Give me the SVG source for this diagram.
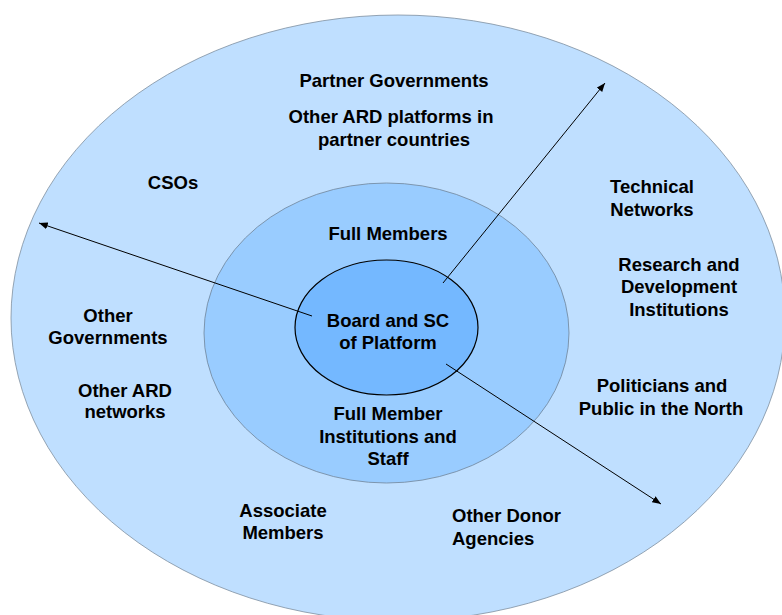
<svg xmlns="http://www.w3.org/2000/svg" width="782" height="615" viewBox="0 0 782 615">
  <style>
    .lbl { font-family: "Liberation Sans", Arial, sans-serif; font-weight: bold; font-size: 18.5px; fill: #000; }
    .mid { text-anchor: middle; }
    .ring-outer { fill: #BFDFFF; stroke: #7F8FA0; stroke-width: 0.8; }
    .ring-mid { fill: #99CCFF; stroke: #6F8499; stroke-width: 0.8; }
    .ring-core { fill: #74B8FF; stroke: #000; stroke-width: 1.2; }
    .conn { stroke: #000; stroke-width: 1; fill: none; marker-end: url(#head); }
  </style>
  <defs>
    <marker id="head" viewBox="0 0 10 8" refX="10" refY="4" markerWidth="9" markerHeight="7" markerUnits="userSpaceOnUse" orient="auto">
      <path d="M0,0 L10,4 L0,8 z" fill="#000"/>
    </marker>
  </defs>
  <rect width="782" height="615" fill="#fff"/>

  <!-- concentric rings -->
  <g id="outer-ring"><ellipse class="ring-outer" cx="398" cy="318" rx="387" ry="303"/></g>
  <g id="member-ring"><ellipse class="ring-mid" cx="386.5" cy="333" rx="182.5" ry="150"/></g>

  <g id="core">
    <ellipse class="ring-core" cx="386.5" cy="327.5" rx="91.5" ry="67.5"/>
  </g>

  <!-- arrows radiating from the core -->
  <g id="connectors">
    <line class="conn" x1="312" y1="316" x2="39" y2="223"/>
    <line class="conn" x1="443" y1="283" x2="605" y2="83"/>
    <line class="conn" x1="446" y1="364" x2="661" y2="504"/>
  </g>

  <g id="core-label">
    <text class="lbl mid" x="388" y="327">Board and SC</text>
    <text class="lbl mid" x="388" y="349">of Platform</text>
  </g>

  <g id="full-members"><text class="lbl mid" x="388" y="240">Full Members</text></g>
  <g id="full-member-institutions">
    <text class="lbl mid" x="388" y="420">Full Member</text>
    <text class="lbl mid" x="388" y="443">Institutions and</text>
    <text class="lbl mid" x="388" y="465">Staff</text>
  </g>

  <g id="partner-governments"><text class="lbl mid" x="394" y="87">Partner Governments</text></g>
  <g id="ard-platforms">
    <text class="lbl mid" x="391" y="123">Other ARD platforms in</text>
    <text class="lbl mid" x="394" y="146">partner countries</text>
  </g>
  <g id="csos"><text class="lbl mid" x="173" y="189">CSOs</text></g>
  <g id="technical-networks">
    <text class="lbl mid" x="652" y="193">Technical</text>
    <text class="lbl mid" x="652" y="216">Networks</text>
  </g>
  <g id="research-institutions">
    <text class="lbl mid" x="679" y="271">Research and</text>
    <text class="lbl mid" x="679" y="293">Development</text>
    <text class="lbl mid" x="679" y="316">Institutions</text>
  </g>
  <g id="politicians-public">
    <text class="lbl mid" x="662" y="392">Politicians and</text>
    <text class="lbl mid" x="661" y="415">Public in the North</text>
  </g>
  <g id="other-governments">
    <text class="lbl mid" x="108" y="322">Other</text>
    <text class="lbl mid" x="108" y="344">Governments</text>
  </g>
  <g id="ard-networks">
    <text class="lbl mid" x="125" y="397">Other ARD</text>
    <text class="lbl mid" x="125" y="418">networks</text>
  </g>
  <g id="associate-members">
    <text class="lbl mid" x="283" y="517">Associate</text>
    <text class="lbl mid" x="283" y="539">Members</text>
  </g>
  <g id="donor-agencies">
    <text class="lbl" x="452" y="522">Other Donor</text>
    <text class="lbl" x="452" y="545">Agencies</text>
  </g>
</svg>
